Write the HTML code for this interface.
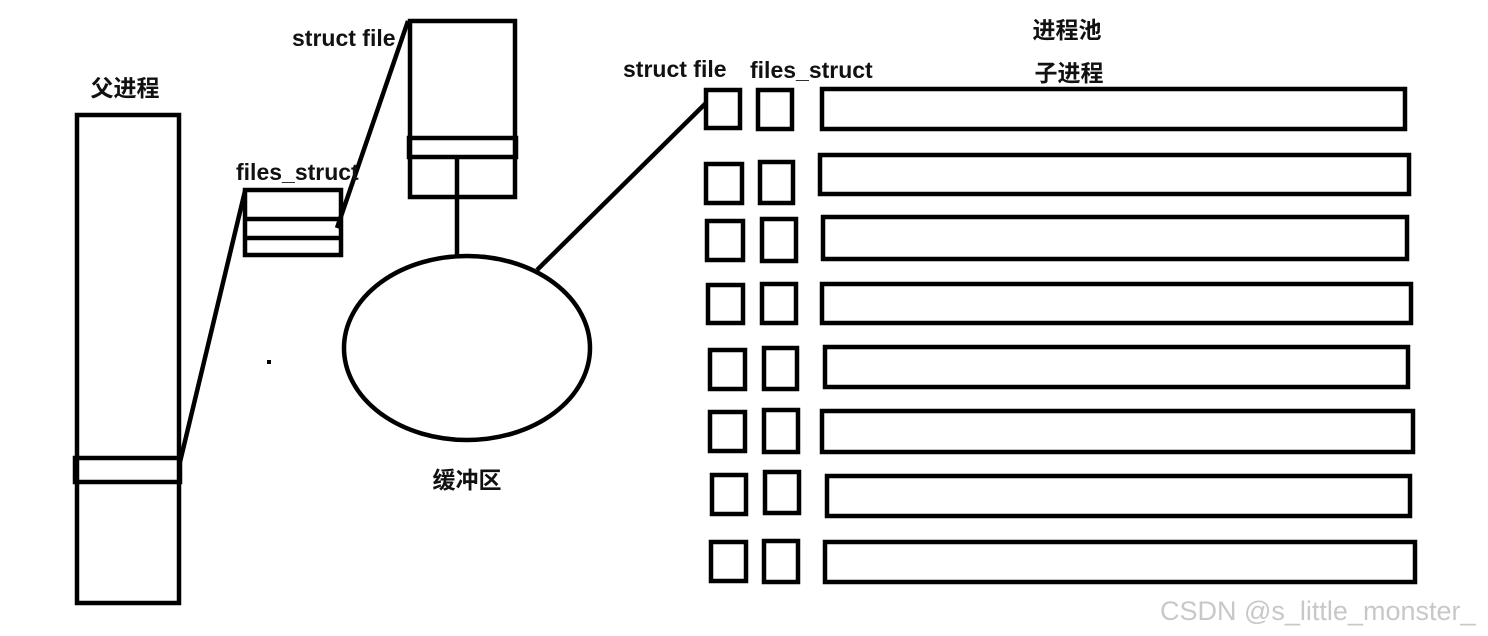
<!DOCTYPE html>
<html><head><meta charset="utf-8"><style>
html,body{margin:0;padding:0;background:#fff;}
svg{display:block}
text{font-family:"Liberation Sans","Noto Sans CJK SC",sans-serif;font-weight:bold;fill:#111;}
</style></head><body>
<svg width="1488" height="636" viewBox="0 0 1488 636" xmlns="http://www.w3.org/2000/svg">
<g fill="none" stroke="#000" stroke-width="4.5">
<rect x="77" y="115" width="102" height="488"/>
<rect x="75" y="458" width="105" height="24"/>
<rect x="245" y="190" width="96" height="65"/>
<line x1="245" y1="219" x2="341" y2="219"/>
<line x1="245" y1="238" x2="341" y2="238"/>
<line x1="245" y1="191" x2="180" y2="462"/>
<line x1="337" y1="228" x2="408" y2="21"/>
<rect x="410" y="21" width="105" height="176"/>
<rect x="409" y="138" width="107" height="19"/>
<line x1="457" y1="157" x2="457" y2="256"/>
<ellipse cx="467" cy="348" rx="123" ry="92"/>
<line x1="537" y1="270" x2="706" y2="103"/>
<rect x="706" y="90" width="34" height="38"/><rect x="758" y="90" width="34" height="39"/><rect x="822" y="89" width="583" height="40"/>
<rect x="706" y="164" width="36" height="39"/><rect x="760" y="162" width="33" height="41"/><rect x="820" y="155" width="589" height="39"/>
<rect x="707" y="221" width="36" height="39"/><rect x="762" y="219" width="34" height="42"/><rect x="823" y="217" width="584" height="42"/>
<rect x="708" y="285" width="35" height="38"/><rect x="762" y="284" width="34" height="39"/><rect x="822" y="284" width="589" height="39"/>
<rect x="710" y="350" width="35" height="39"/><rect x="764" y="348" width="33" height="41"/><rect x="825" y="347" width="583" height="40"/>
<rect x="710" y="412" width="35" height="39"/><rect x="764" y="410" width="34" height="42"/><rect x="822" y="411" width="591" height="41"/>
<rect x="712" y="475" width="34" height="39"/><rect x="765" y="472" width="34" height="41"/><rect x="827" y="476" width="583" height="40"/>
<rect x="711" y="542" width="35" height="39"/><rect x="764" y="541" width="34" height="41"/><rect x="825" y="542" width="590" height="40"/>
</g>
<rect x="267" y="360" width="4" height="4" fill="#000"/>
<rect x="758" y="179" width="4" height="6" fill="#000"/>
<text x="125" y="96" font-size="23" text-anchor="middle">父进程</text>
<text x="292" y="46" font-size="23">struct file</text>
<text x="236" y="180" font-size="23">files_struct</text>
<text x="467" y="488" font-size="23" text-anchor="middle">缓冲区</text>
<text x="623" y="77" font-size="23">struct file</text>
<text x="750" y="78" font-size="23">files_struct</text>
<text x="1067" y="38" font-size="23" text-anchor="middle">进程池</text>
<text x="1069" y="81" font-size="23" text-anchor="middle">子进程</text>
<text x="1160" y="620" font-size="27" style="font-weight:normal;fill:#c8c8c8">CSDN @s_little_monster_</text>
</svg>
</body></html>
